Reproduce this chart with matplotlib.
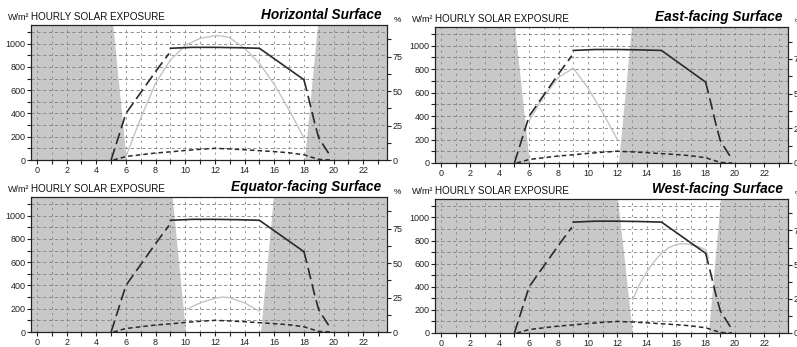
import matplotlib
matplotlib.use("Agg")
import matplotlib.pyplot as plt
import numpy as np

plt.rcParams['font.family'] = ['Liberation Sans', 'DejaVu Sans']

panel_titles = ["Horizontal Surface", "East-facing Surface",
                "Equator-facing Surface", "West-facing Surface"]

# dark line (same in all panels): early dashed part, solid part, late dashed part
dark_early_x = [5.0, 6.0, 7.0, 8.0, 8.9]
dark_early_y = [0, 400, 580, 760, 915]
dark_mid_x = [9.0, 10.5, 12.0, 13.5, 15.0, 16.0, 17.0, 18.0]
dark_mid_y = [960, 968, 968, 965, 960, 870, 780, 690]
dark_late_x = [18.0, 18.3, 18.7, 19.0, 19.4, 19.8]
dark_late_y = [690, 540, 330, 190, 110, 30]

# low short-dashed line (same in all panels)
low_x = [5.15, 6.0, 7.0, 8.0, 9.0, 10.0, 11.0, 12.0, 13.0, 14.0, 15.0, 16.0, 17.0, 18.0, 18.5, 19.0, 19.8]
low_y = [0, 30, 45, 60, 70, 82, 92, 100, 95, 88, 80, 72, 62, 45, 25, 5, 0]

# light exposure curves
horiz_x = [6.0, 7.0, 8.0, 9.0, 10.0, 11.0, 12.0, 12.5, 13.0, 14.0, 15.0, 16.0, 17.0, 18.0]
horiz_y = [30, 360, 660, 860, 985, 1045, 1068, 1065, 1050, 960, 830, 650, 430, 190]
east_x = [6.0, 7.0, 8.0, 9.0, 10.0, 11.0, 12.0]
east_y = [360, 570, 730, 810, 640, 430, 200]
equat_x = [10.0, 11.0, 12.0, 12.5, 13.0, 14.0, 15.0]
equat_y = [190, 250, 290, 300, 295, 250, 180]
west_x = [13.05, 13.5, 14.0, 14.5, 15.0, 15.5, 16.0, 16.5, 17.0, 17.5, 18.0, 18.2]
west_y = [290, 420, 530, 620, 690, 740, 765, 775, 765, 748, 720, 650]

light_x = [horiz_x, east_x, equat_x, west_x]
light_y = [horiz_y, east_y, equat_y, west_y]

# shaded (no direct sun) boundaries: left top, left bottom, right top, right bottom (hours)
shade_lt = [5.15, 5.05, 9.15, 12.05]
shade_lb = [6.05, 6.05, 10.05, 13.05]
shade_rt = [18.95, 13.0, 16.0, 19.05]
shade_rb = [18.05, 12.1, 15.1, 18.2]

x_ticks = list(range(0, 24, 2))
y_ticks = [0, 200, 400, 600, 800, 1000]
pct_ticks = [0, 25, 50, 75]

W, H = 797, 347
fig = plt.figure(figsize=(W / 100, H / 100), dpi=100)

boxes = [(31, 387, 25, 160), (435, 788, 27, 163), (31, 387, 197, 332), (435, 788, 199, 333)]

XMIN, XMAX = -0.4, 23.6
YMAX = 1160
PMAX = 98

for i, (l, r, t, b) in enumerate(boxes):
    ax = fig.add_axes([l / W, (H - b) / H, (r - l) / W, (b - t) / H])
    ax.set_xlim(XMIN, XMAX)
    ax.set_ylim(0, YMAX)
    # shading
    ax.fill([XMIN, shade_lb[i], shade_lt[i], XMIN], [0, 0, YMAX, YMAX],
            color='#c8c8c8', lw=0, zorder=0)
    ax.fill([shade_rb[i], XMAX, XMAX, shade_rt[i]], [0, 0, YMAX, YMAX],
            color='#c8c8c8', lw=0, zorder=0)
    # grid
    for xv in range(0, 24):
        ax.axvline(xv, color='#808080', lw=0.6, ls=(0, (2.5, 4.5)), zorder=1)
    for yv in range(100, 1200, 100):
        ax.axhline(yv, color='#808080', lw=0.6, ls=(0, (4, 3)), zorder=1)
    # lines
    ax.plot(light_x[i], light_y[i], color='#c4c4c4', lw=1.0, zorder=3)
    ax.plot(low_x, low_y, color='#2a2a2a', lw=1.1, ls=(0, (3, 2)), zorder=4)
    ax.plot(dark_early_x, dark_early_y, color='#2a2a2a', lw=1.2, ls=(0, (7, 3)), zorder=4)
    ax.plot(dark_mid_x, dark_mid_y, color='#2a2a2a', lw=1.2, zorder=4)
    ax.plot(dark_late_x, dark_late_y, color='#2a2a2a', lw=1.2, ls=(0, (7, 3)), zorder=4)

    ax.set_xticks(x_ticks)
    ax.set_xticks(range(0, 24), minor=True)
    ax.set_yticks(y_ticks)
    ax.set_yticks(range(0, 1200, 100), minor=True)
    ax.tick_params(axis='both', which='both', direction='out', labelsize=6.5,
                   length=3, width=0.8, pad=1, colors='#222222')
    for sp in ax.spines.values():
        sp.set_color('#222222')
        sp.set_linewidth(0.8)

    ax2 = ax.twinx()
    ax2.set_ylim(0, PMAX)
    ax2.set_yticks(pct_ticks)
    ax2.set_yticks([12.5, 37.5, 62.5, 87.5], minor=True)
    ax2.tick_params(axis='y', which='both', direction='out', labelsize=6.5,
                    length=3, width=0.8, pad=1, colors='#222222')
    for sp in ax2.spines.values():
        sp.set_color('#222222')
        sp.set_linewidth(0.8)

    ax.text(0.0, 1.02, "HOURLY SOLAR EXPOSURE", transform=ax.transAxes,
            ha='left', va='bottom', fontsize=7.1, color='#111111')
    ax.text(-0.005, 1.02, "W/m²", transform=ax.transAxes,
            ha='right', va='bottom', fontsize=6.5, color='#111111')
    ax.text(0.985, 1.02, panel_titles[i], transform=ax.transAxes,
            ha='right', va='bottom', fontsize=9.8, fontweight='bold',
            fontstyle='italic', color='#000000')
    ax.text(1.02, 1.01, "%", transform=ax.transAxes,
            ha='left', va='bottom', fontsize=6, color='#111111')

fig.savefig("out.png", dpi=100)
